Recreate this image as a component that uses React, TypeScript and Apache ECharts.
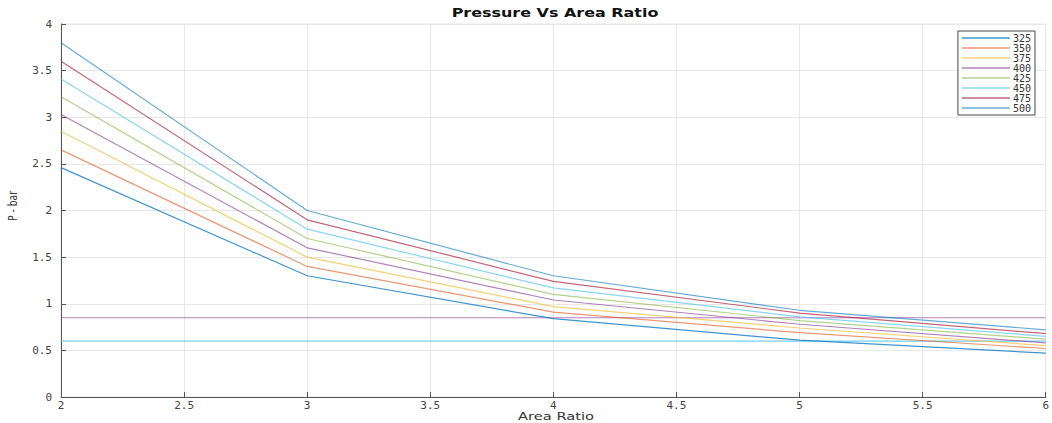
import React, { useEffect, useRef } from "react";
import * as echarts from "echarts";

const areaRatio = [2, 3, 4, 5, 6];
const seriesNames = ["325", "350", "375", "400", "425", "450", "475", "500"];
const p325 = [2.46, 1.3, 0.84, 0.61, 0.47];
const p350 = [2.65, 1.4, 0.91, 0.69, 0.52];
const p375 = [2.85, 1.5, 0.97, 0.74, 0.55];
const p400 = [3.03, 1.6, 1.04, 0.78, 0.58];
const p425 = [3.22, 1.7, 1.1, 0.82, 0.62];
const p450 = [3.41, 1.8, 1.17, 0.86, 0.65];
const p475 = [3.6, 1.9, 1.24, 0.9, 0.68];
const p500 = [3.8, 2.0, 1.3, 0.93, 0.72];
const seriesValues = [p325, p350, p375, p400, p425, p450, p475, p500];
const refLevelA = 0.85;
const refLevelB = 0.6;

const colors = [
  "rgba(0,114,189,0.75)",
  "rgba(217,83,25,0.6)",
  "rgba(237,177,32,0.6)",
  "rgba(126,47,142,0.6)",
  "rgba(119,172,48,0.55)",
  "rgba(77,190,238,0.65)",
  "rgba(162,20,47,0.65)",
  "rgba(0,114,189,0.6)",
];

export default function App() {
  const ref = useRef<HTMLDivElement>(null);
  useEffect(() => {
    if (!ref.current) return;
    const chart = echarts.init(ref.current, undefined, { renderer: "svg" });
    const font = "DejaVu Sans";
    const mono = "DejaVu Sans Mono";
    const lineSeries = seriesNames.map((name, i) => ({
      name,
      type: "line",
      data: areaRatio.map((x, j) => [x, seriesValues[i][j]]),
      showSymbol: false,
      symbol: "none",
      lineStyle: { width: 1.2, color: colors[i] },
      itemStyle: { color: colors[i] },
      z: 3,
    }));
    const ends = [areaRatio[0], areaRatio[areaRatio.length - 1]];
    const refSeries = [
      {
        name: "refA",
        type: "line",
        data: ends.map((x) => [x, refLevelA]),
        symbol: "none",
        lineStyle: { width: 1.2, color: "rgba(126,47,142,0.6)" },
        z: 2,
      },
      {
        name: "refB",
        type: "line",
        data: ends.map((x) => [x, refLevelB]),
        symbol: "none",
        lineStyle: { width: 1.2, color: "rgba(77,190,238,0.75)" },
        z: 2,
      },
    ];
    chart.setOption({
      animation: false,
      backgroundColor: "#ffffff",
      graphic: [
        {
          type: "text",
          x: 555,
          y: 13,
          scaleX: 1.33,
          style: {
            text: "Pressure Vs Area Ratio",
            fontFamily: font,
            fontSize: 12,
            fontWeight: "bold",
            fill: "#111",
            align: "center",
            verticalAlign: "middle",
          },
        },
        {
          type: "text",
          x: 556,
          y: 416,
          scaleX: 1.33,
          style: {
            text: "Area Ratio",
            fontFamily: font,
            fontSize: 11,
            fill: "#333",
            align: "center",
            verticalAlign: "middle",
          },
        },
        {
          type: "text",
          x: 13,
          y: 206,
          rotation: Math.PI / 2,
          scaleX: 0.82,
          style: {
            text: "P - bar",
            fontFamily: "DejaVu Sans Condensed",
            fontSize: 12.5,
            fill: "#333",
            align: "center",
            verticalAlign: "middle",
          },
        },
      ],
      legend: {
        data: seriesNames,
        orient: "vertical",
        right: 17,
        top: 31,
        itemGap: 0,
        itemWidth: 48,
        itemHeight: 1.5,
        icon: "rect",
        padding: [2, 4, 2, 4],
        backgroundColor: "#fff",
        borderColor: "#444",
        borderWidth: 1,
        textStyle: { fontFamily: mono, fontSize: 10, lineHeight: 9.6, color: "#333", padding: [0, 0, 0, -2] },
      },
      grid: {
        left: 61,
        right: 4,
        top: 24,
        bottom: 26,
        show: true,
        borderColor: "#e6e6e6",
        borderWidth: 1,
      },
      xAxis: {
        type: "value",
        min: 2,
        max: 6,
        interval: 0.5,
        axisLine: { show: true, lineStyle: { color: "#555", width: 1 } },
        axisTick: { show: true, inside: true, length: 5, lineStyle: { color: "#555" } },
        axisLabel: { fontFamily: mono, fontSize: 11, color: "#444", margin: 3 },
        splitLine: { show: true, lineStyle: { color: "#e8e8e8", width: 1 } },
      },
      yAxis: {
        type: "value",
        min: 0,
        max: 4,
        interval: 0.5,
        axisLine: { show: true, lineStyle: { color: "#555", width: 1 } },
        axisTick: { show: true, inside: true, length: 5, lineStyle: { color: "#555" } },
        axisLabel: { fontFamily: mono, fontSize: 11, color: "#444", margin: 9 },
        splitLine: { show: true, lineStyle: { color: "#e8e8e8", width: 1 } },
      },
      series: [...lineSeries, ...refSeries],
    });
    return () => chart.dispose();
  }, []);
  return <div ref={ref} style={{ width: 1052, height: 423, position: "absolute", left: 0, top: 0 }} />;
}
